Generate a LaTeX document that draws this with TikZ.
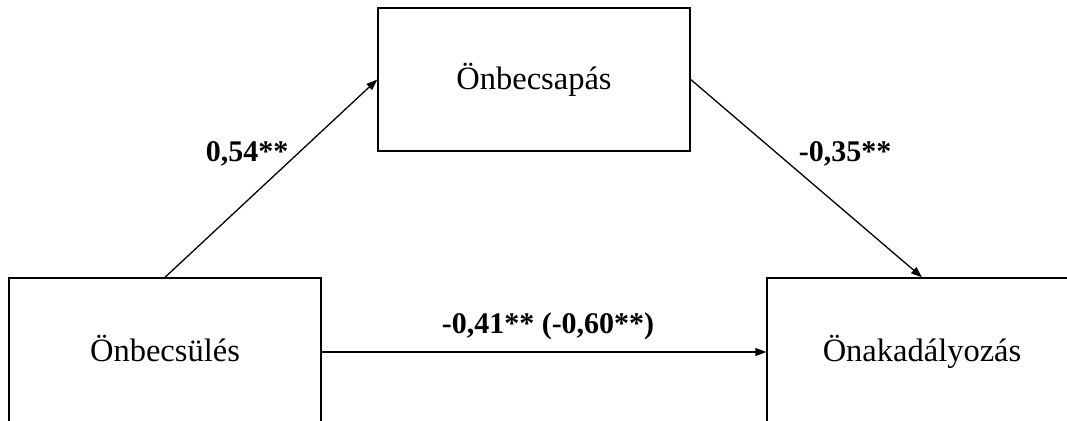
\documentclass[tikz,border=0pt]{standalone}
\usepackage{fontspec}
\setmainfont{Liberation Serif}
\usetikzlibrary{arrows.meta}
\begin{document}
\begin{tikzpicture}[x=1pt,y=-1pt,
  box/.style={draw,line width=1.4pt,minimum width=#1,inner sep=0pt,text height=26pt,text depth=7pt,font=\fontsize{32.5}{32.5}\selectfont},
  conn/.style={line width=1.3pt,-{Triangle[length=11pt,width=8pt]}},
  coef/.style={font=\fontsize{30}{30}\selectfont\bfseries,inner sep=0pt}]
\useasboundingbox (0,0) rectangle (1067,420);
\clip (0,0) rectangle (1067,420);
\fill[white] (0,0) rectangle (1067,420);
\node[box=312pt,minimum height=143pt] (mid) at (534,79.5) {Önbecsapás};
\node[box=312pt,minimum height=148pt] (x) at (165,352) {Önbecsülés};
\node[box=310pt,minimum height=148pt] (y) at (922,352) {Önakadályozás};
\draw[conn] (x.north) -- (mid.west);
\draw[conn] (mid.east) -- (y.north);
\draw[conn] (x.east) -- (y.west);
\node[coef] (a) at (247,154) {0,54**};
\node[coef] (b) at (845,154) {-0,35**};
\node[coef] (c) at (548,326) {-0,41** (-0,60**)};
\end{tikzpicture}
\end{document}
